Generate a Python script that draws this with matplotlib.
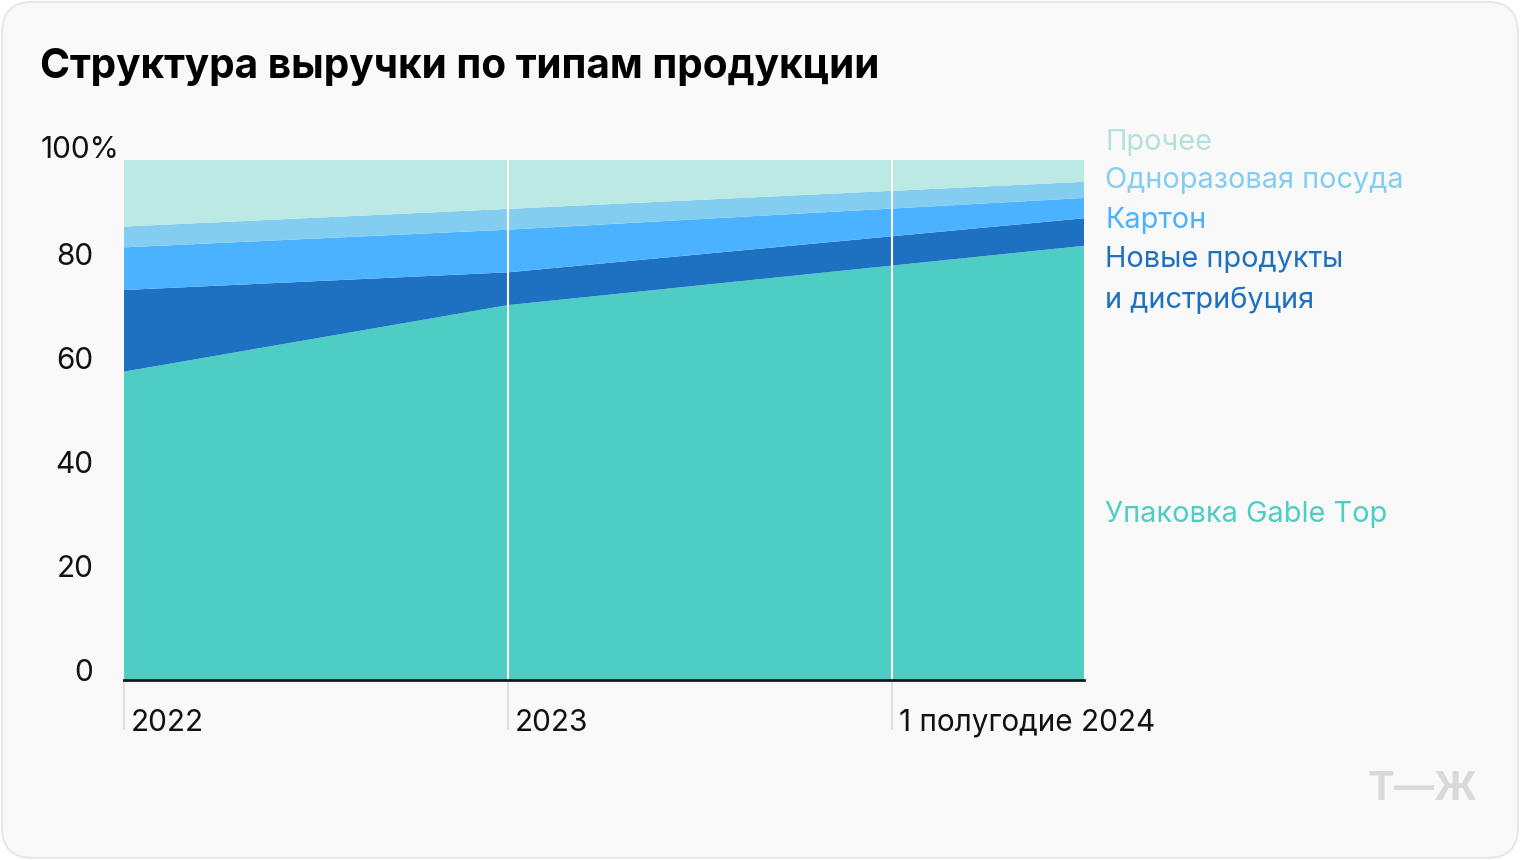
import numpy as np
import matplotlib.pyplot as plt
from matplotlib.patches import FancyBboxPatch
from matplotlib.transforms import ScaledTranslation, blended_transform_factory

plt.rcParams['font.family'] = ['Inter', 'DejaVu Sans']

# periods (as year fractions) and shares, %
x_pos = [2022.0, 2023.0, 2024.5]
tick_pos = [2022, 2023, 2024]
tick_labels = ["2022", "2023", "1 полугодие 2024"]

gable_top = [59.3, 72.1, 83.5]
new_products = [15.7, 6.3, 5.3]
carton = [8.2, 8.2, 3.9]
disposable = [4.0, 4.0, 3.1]
other = [12.8, 9.4, 4.2]

series = [gable_top, new_products, carton, disposable, other]
colors = ["#4ecdc4", "#1e70c1", "#4ab2ff", "#82cdf0", "#bbe9e4"]
text_colors = ["#4ecdc4", "#1e70c1", "#4ab2ff", "#82cdf0", "#b3e2dd"]
names = ["Упаковка Gable Top", "Новые продукты\nи дистрибуция", "Картон",
         "Одноразовая посуда", "Прочее"]

fig = plt.figure(figsize=(15.2, 8.6), dpi=100, facecolor="white")
bg = FancyBboxPatch((2 / 1520, 2 / 860), 1516 / 1520, 856 / 860,
                    boxstyle="round,pad=0,rounding_size=0.02",
                    transform=fig.transFigure, facecolor="#f9f9f9",
                    edgecolor="#e8e8e8", linewidth=1.5, mutation_aspect=1520 / 860,
                    zorder=-10)
fig.patches.append(bg)

ax = fig.add_axes([124 / 1520, 1 - 680 / 860, 960 / 1520, 520 / 860])
ax.set_facecolor("none")
ax.stackplot(x_pos, *series, colors=colors, linewidth=0)
ax.set_xlim(2022, 2024.5)
ax.set_ylim(0, 100)

for t in tick_pos[1:]:
    ax.axvline(t, color="white", linewidth=1.5, zorder=3)

for s in ["top", "right", "left"]:
    ax.spines[s].set_visible(False)
ax.spines["bottom"].set_color("#1a1a1a")
ax.spines["bottom"].set_linewidth(2)
ax.spines["bottom"].set_zorder(5)

ax.set_xticks(tick_pos)
ax.set_xticklabels([])
ax.tick_params(axis="x", length=36, width=1.5, color="#e0e0e0", direction="out")

trans = blended_transform_factory(ax.transData, ax.transAxes)
for t, lab in zip(tick_pos, tick_labels):
    ax.text(t, 0, lab, transform=trans + ScaledTranslation(0.07, -0.43, fig.dpi_scale_trans),
            ha="left", va="center", fontsize=21.4, color="#111111")

yt = [0, 20, 40, 60, 80, 100]
ax.set_yticks(yt)
ax.set_yticklabels([str(v) if v < 100 else "" for v in yt])
ax.tick_params(axis="y", length=0, pad=22, labelsize=21.4, labelcolor="#111111")
for lab in ax.get_yticklabels():
    lab.set_transform(lab.get_transform() + ScaledTranslation(0, 0.10, fig.dpi_scale_trans))
ax.text(0, yt[-1], f"{yt[-1]}%", transform=blended_transform_factory(ax.transAxes, ax.transData)
        + ScaledTranslation(-0.83, 0.10, fig.dpi_scale_trans),
        ha="left", va="center", fontsize=21.4, color="#111111")

# legend labels on the right
label_y = [514, 280, 220, 180, 142]
for name, col, ly in zip(names, text_colors, label_y):
    fig.text(1105 / 1520, 1 - ly / 860, name, ha="left", va="center",
             fontsize=20.8, color=col, linespacing=1.65)

fig.text(40 / 1520, 1 - 67 / 860, "Структура выручки по типам продукции",
         ha="left", va="center", fontsize=29.2, fontweight="bold", color="#000000")
fig.text(1478 / 1520, 1 - 790 / 860, "Т—Ж", ha="right", va="center",
         fontsize=29, fontweight="bold", color="#d9d9d9")

fig.savefig("out.png", dpi=100, facecolor="white")
